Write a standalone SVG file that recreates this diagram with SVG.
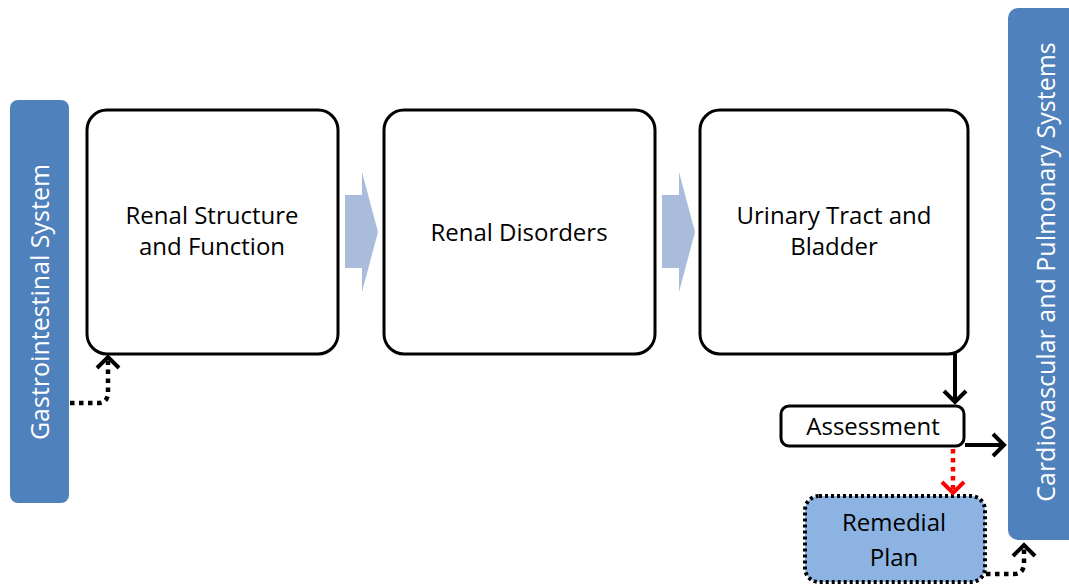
<svg xmlns="http://www.w3.org/2000/svg" width="1069" height="586" viewBox="0 0 1069 586">
<defs>
<style>
.box{fill:#fff;stroke:#000;stroke-width:3}
.bar{fill:#4f81bd}
.t{font-family:"Open Sans","Noto Sans",sans-serif;font-size:24px;fill:#000;text-anchor:middle}
.tw{font-family:"Open Sans","Noto Sans",sans-serif;font-size:25px;fill:#fff;text-anchor:middle}
.chev{fill:#a9bcdc}
.solid{fill:none;stroke:#000;stroke-width:4}
.dot{fill:none;stroke:#000;stroke-width:4.5;stroke-dasharray:4.5 4.5}
.red{fill:none;stroke:#ff0000;stroke-width:4.5;stroke-dasharray:4.5 4.5}
</style>
<marker id="ab" markerWidth="10" markerHeight="10" refX="8" refY="5" orient="auto" markerUnits="userSpaceOnUse" viewBox="0 0 10 10" overflow="visible">
<path d="M-3,-6 L8,5 L-3,16" fill="none" stroke="#000" stroke-width="4"/>
</marker>
<marker id="ar" markerWidth="10" markerHeight="10" refX="8" refY="5" orient="auto" markerUnits="userSpaceOnUse" viewBox="0 0 10 10" overflow="visible">
<path d="M-3,-6 L8,5 L-3,16" fill="none" stroke="#ff0000" stroke-width="4"/>
</marker>
</defs>
<rect width="1069" height="586" fill="#fff"/>
<g id="gastro">
<rect class="bar" x="10" y="100" width="59" height="403" rx="8"/>
<text class="tw" transform="translate(49,302) rotate(-90)">Gastrointestinal System</text>
</g>
<g id="cardio">
<rect class="bar" x="1008" y="8" width="75" height="532" rx="10"/>
<text class="tw" transform="translate(1055,272) rotate(-90)">Cardiovascular and Pulmonary  Systems</text>
</g>
<g id="renal-structure">
<rect class="box" x="87" y="110" width="251" height="244" rx="20"/>
<text class="t" x="212" y="224">Renal Structure</text>
<text class="t" x="212" y="255">and Function</text>
</g>
<g id="renal-disorders">
<rect class="box" x="384" y="110" width="271" height="244" rx="20"/>
<text class="t" x="519" y="241">Renal Disorders</text>
</g>
<g id="urinary">
<rect class="box" x="700" y="110" width="268" height="244" rx="20"/>
<text class="t" x="834" y="224">Urinary Tract and</text>
<text class="t" x="834" y="255">Bladder</text>
</g>
<g id="assessment">
<rect class="box" x="781" y="406" width="183" height="40" rx="8"/>
<text class="t" x="873" y="435">Assessment</text>
</g>
<g id="remedial">
<rect x="805" y="496" width="180" height="86" rx="14" fill="#8db3e2" stroke="#000" stroke-width="4" stroke-dasharray="3 3"/>
<text class="t" x="894" y="531">Remedial</text>
<text class="t" x="894" y="566">Plan</text>
</g>
<g id="connectors">
<path class="chev" d="M345,195 H362 V172 L378,232 L362,292 V268 H345 Z"/>
<path class="chev" d="M662,195 H679 V172 L695,232 L679,292 V268 H662 Z"/>
<path class="solid" d="M955,354 V402" marker-end="url(#ab)"/>
<path class="solid" d="M965,445 H1004" marker-end="url(#ab)"/>
<path class="red" d="M953,449 V493" marker-end="url(#ar)"/>
<path class="dot" d="M70,403 H98 Q108,403 108,392 V357" marker-end="url(#ab)"/>
<path class="dot" d="M986,574 H1014 Q1024,574 1024,563 V545" marker-end="url(#ab)"/>
</g>
</svg>
